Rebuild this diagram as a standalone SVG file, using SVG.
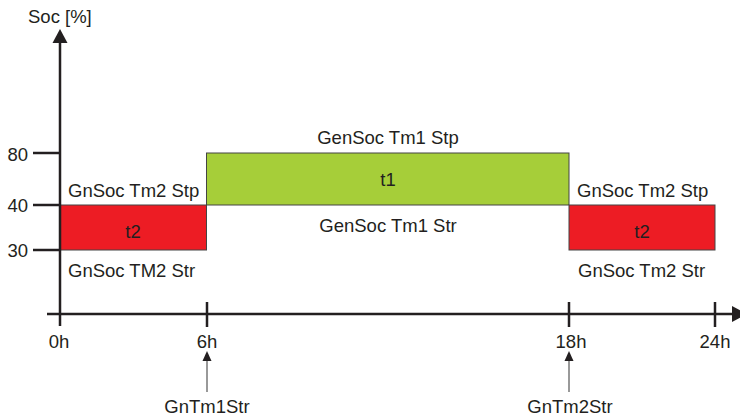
<svg xmlns="http://www.w3.org/2000/svg" width="740" height="419" viewBox="0 0 740 419">
<style>
text{font-family:"Liberation Sans",Arial,sans-serif;font-size:18.5px;fill:#231f20}
.ax{stroke:#231f20;stroke-width:2.5;fill:none}
.hd{fill:#231f20}
.box{stroke:#444;stroke-width:1}
.pt{stroke:#555;stroke-width:1.2}
.m{text-anchor:middle}
.e{text-anchor:end}
</style>
<rect width="740" height="419" fill="#fff"/>
<g id="t1-box">
<rect class="box" x="206.5" y="153" width="362.5" height="52" fill="#a6ce39"/>
<text class="m" x="388" y="186">t1</text>
<text class="m" x="388" y="144">GenSoc Tm1 Stp</text>
<text class="m" x="388" y="232">GenSoc Tm1 Str</text>
</g>
<g id="t2-left">
<rect class="box" x="60" y="205" width="146.5" height="45" fill="#ed1c24"/>
<text class="m" x="133" y="238">t2</text>
<text x="68" y="197">GnSoc Tm2 Stp</text>
<text x="68" y="277">GnSoc TM2 Str</text>
</g>
<g id="t2-right">
<rect class="box" x="569" y="205" width="146" height="45" fill="#ed1c24"/>
<text class="m" x="642" y="238">t2</text>
<text x="577" y="197">GnSoc Tm2 Stp</text>
<text x="578" y="277">GnSoc Tm2 Str</text>
</g>
<g id="axes">
<line class="ax" x1="60" y1="40" x2="60" y2="326"/>
<polygon class="hd" points="52.5,43 60,29 67.5,43"/>
<line class="ax" x1="47" y1="314" x2="734" y2="314"/>
<polygon class="hd" points="732,306 747,314 732,322"/>
<line class="ax" x1="33" y1="153" x2="60" y2="153"/>
<line class="ax" x1="33" y1="205" x2="60" y2="205"/>
<line class="ax" x1="33" y1="250" x2="60" y2="250"/>
<line class="ax" x1="207" y1="302" x2="207" y2="327"/>
<line class="ax" x1="569" y1="302" x2="569" y2="327"/>
<line class="ax" x1="715" y1="302" x2="715" y2="327"/>
<text x="28" y="23">Soc [%]</text>
<text class="e" x="28" y="161">80</text>
<text class="e" x="28" y="212">40</text>
<text class="e" x="28" y="257">30</text>
<text class="m" x="59" y="348">0h</text>
<text class="m" x="207" y="348">6h</text>
<text class="m" x="571" y="348">18h</text>
<text class="m" x="715" y="348">24h</text>
</g>
<g id="connectors">
<line class="pt" x1="207" y1="392" x2="207" y2="358"/>
<polygon class="hd" points="202.5,361 207,351 211.5,361"/>
<line class="pt" x1="569" y1="392" x2="569" y2="358"/>
<polygon class="hd" points="564.5,361 569,351 573.5,361"/>
</g>
<g id="GnTm1Str"><text class="m" x="207" y="413">GnTm1Str</text></g>
<g id="GnTm2Str"><text class="m" x="570" y="413">GnTm2Str</text></g>
</svg>
